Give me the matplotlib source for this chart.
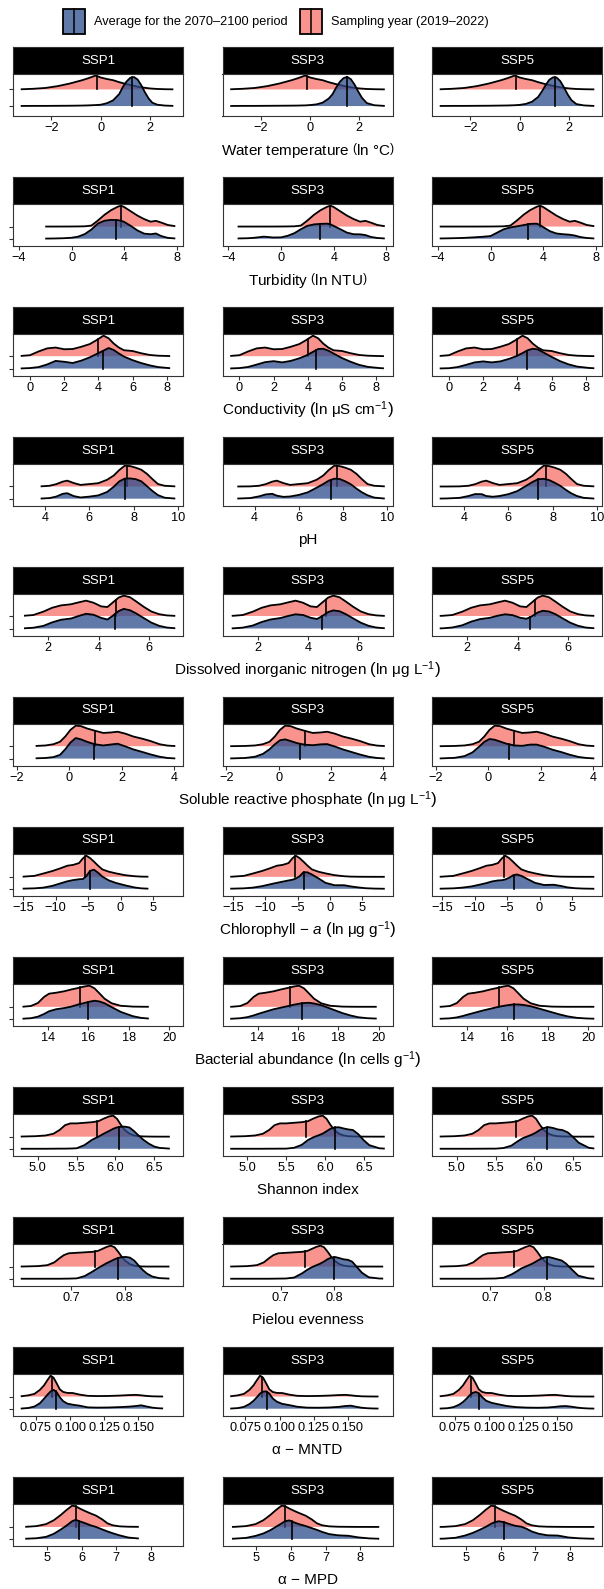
import numpy as np
import matplotlib.pyplot as plt
from matplotlib.patches import Rectangle

plt.rcParams['font.family'] = ['Liberation Sans', 'DejaVu Sans']
plt.rcParams['mathtext.fontset'] = 'custom'
plt.rcParams['mathtext.rm'] = 'Liberation Sans'
plt.rcParams['mathtext.it'] = 'Liberation Sans:italic'
plt.rcParams['mathtext.bf'] = 'Liberation Sans:bold'

scenarios = ['SSP1', 'SSP3', 'SSP5']
legend_labels = ['Average for the 2070\u20132100 period', 'Sampling year (2019\u20132022)']

# density heights (in ridge units) read on a shared grid per variable;
# "now" = sampling year, sspN = average for 2070-2100 under that scenario

# water temperature
temp_x = [-3.25, -2.75, -2.25, -1.75, -1.25, -0.75, -0.5, -0.2, 0.0, 0.25, 0.5, 0.75, 0.9,
          1.05, 1.2, 1.35, 1.5, 1.65, 1.8, 1.95, 2.1, 2.3, 2.6, 2.95, 3.03]
temp_now = [0.01, 0.04, 0.09, 0.2, 0.36, 0.56, 0.68, 0.84, 0.72, 0.63, 0.56, 0.44, 0.38,
            0.32, 0.27, 0.22, 0.17, 0.13, 0.1, 0.07, 0.05, 0.03, 0.015, 0.006, 0.005]
temp_ssp1 = [0.005, 0.01, 0.01, 0.015, 0.02, 0.03, 0.04, 0.06, 0.08, 0.17, 0.34, 0.72, 1.15,
             1.48, 1.7, 1.75, 1.6, 1.25, 0.82, 0.45, 0.2, 0.08, 0.03, 0.01, 0.01]
temp_ssp3 = [0.005, 0.01, 0.01, 0.015, 0.02, 0.025, 0.03, 0.04, 0.06, 0.1, 0.2, 0.45, 0.7,
             1.1, 1.45, 1.68, 1.76, 1.62, 1.3, 0.88, 0.5, 0.18, 0.05, 0.015, 0.01]
temp_ssp5 = [0.005, 0.01, 0.01, 0.015, 0.02, 0.03, 0.035, 0.05, 0.07, 0.13, 0.26, 0.55, 0.88,
             1.25, 1.58, 1.73, 1.72, 1.5, 1.12, 0.7, 0.36, 0.12, 0.04, 0.012, 0.01]
temp_med_now = -0.15
temp_med_future = [1.28, 1.48, 1.42]
temp_spans = [(-3.25, 2.95), (-3.25, 3.03), (-3.25, 3.03)]
temp_ticks = [-2, 0, 2]
temp_ticklabels = ['\u22122', '0', '2']

# turbidity
turb_x = [-3.86, -3.3, -2.5, -2.0, -1.3, -0.6, 0.0, 0.5, 1.0, 1.5, 2.0, 2.5, 3.0, 3.5,
          3.75, 4.0, 4.5, 5.0, 5.5, 6.0, 6.4, 6.8, 7.3, 7.87]
turb_now = [0.0, 0.0, 0.0, 0.0, 0.0, 0.002, 0.005, 0.01, 0.02, 0.08, 0.5, 0.97, 1.35, 1.63,
            1.72, 1.6, 1.25, 0.9, 0.62, 0.4, 0.47, 0.33, 0.13, 0.03]
turb_ssp1 = [0.0, 0.0, 0.0, 0.01, 0.02, 0.04, 0.08, 0.17, 0.38, 0.75, 1.25, 1.48, 1.55, 1.53,
             1.48, 1.38, 1.05, 0.68, 0.42, 0.37, 0.43, 0.22, 0.07, 0.02]
turb_ssp3 = [0.0, 0.02, 0.04, 0.08, 0.17, 0.1, 0.11, 0.24, 0.45, 0.78, 1.06, 1.18, 1.22, 1.24,
             1.18, 1.05, 0.78, 0.5, 0.37, 0.36, 0.3, 0.15, 0.06, 0.02]
turb_ssp5 = [0.02, 0.03, 0.05, 0.07, 0.11, 0.16, 0.22, 0.5, 0.78, 0.93, 1.02, 1.12, 1.22, 1.24,
             1.12, 0.95, 0.62, 0.43, 0.37, 0.33, 0.26, 0.14, 0.06, 0.02]
turb_med_now = 3.72
turb_med_future = [3.38, 2.97, 2.86]
turb_spans = [(-2.0, 7.87), (-3.3, 7.87), (-3.86, 7.87)]
turb_ticks = [-4, 0, 4, 8]
turb_ticklabels = ['\u22124', '0', '4', '8']

# conductivity
cond_x = [-0.54, 0.0, 0.5, 1.0, 1.5, 2.0, 2.5, 3.0, 3.5, 3.9, 4.3, 4.6, 4.9, 5.2, 5.5,
          6.0, 6.5, 7.0, 7.5, 8.2, 8.45, 8.5]
cond_now = [0.02, 0.08, 0.38, 0.63, 0.7, 0.56, 0.58, 0.76, 0.98, 1.3, 1.66, 1.45, 1.02, 0.7,
            0.48, 0.42, 0.24, 0.1, 0.04, 0.01, 0.005, 0.005]
cond_ssp1 = [0.01, 0.04, 0.12, 0.33, 0.62, 0.55, 0.45, 0.64, 0.91, 1.18, 1.45, 1.66, 1.5, 1.22,
             0.97, 0.68, 0.45, 0.26, 0.12, 0.03, 0.02, 0.02]
cond_ssp3 = [0.01, 0.04, 0.13, 0.32, 0.52, 0.6, 0.5, 0.62, 0.83, 1.05, 1.35, 1.58, 1.6, 1.45,
             1.22, 0.85, 0.55, 0.3, 0.14, 0.04, 0.02, 0.02]
cond_ssp5 = [0.01, 0.03, 0.12, 0.3, 0.5, 0.58, 0.5, 0.58, 0.78, 0.98, 1.25, 1.48, 1.6, 1.55,
             1.32, 0.95, 0.6, 0.34, 0.16, 0.05, 0.03, 0.02]
cond_med_now = 3.98
cond_med_future = [4.3, 4.5, 4.55]
cond_spans = [(-0.54, 8.2), (-0.54, 8.45), (-0.54, 8.5)]
cond_ticks = [0, 2, 4, 6, 8]
cond_ticklabels = ['0', '2', '4', '6', '8']

# pH
ph_x = [2.9, 3.22, 3.8, 4.2, 4.5, 4.8, 5.0, 5.3, 5.6, 6.0, 6.4, 6.8, 7.1, 7.35, 7.6, 7.85,
        8.1, 8.35, 8.6, 8.85, 9.1, 9.4, 9.88]
ph_now = [0.0, 0.0, 0.01, 0.06, 0.19, 0.4, 0.48, 0.28, 0.13, 0.2, 0.27, 0.55, 0.9, 1.35, 1.71,
          1.67, 1.54, 1.37, 1.04, 0.6, 0.2, 0.06, 0.01]
ph_ssp1 = [0.0, 0.0, 0.01, 0.05, 0.17, 0.4, 0.45, 0.21, 0.1, 0.17, 0.27, 0.55, 0.98, 1.42, 1.65,
           1.66, 1.6, 1.42, 1.03, 0.63, 0.29, 0.08, 0.01]
ph_ssp3 = [0.0, 0.01, 0.05, 0.19, 0.35, 0.4, 0.25, 0.15, 0.18, 0.31, 0.52, 0.9, 1.2, 1.48, 1.64,
           1.61, 1.42, 1.18, 0.83, 0.52, 0.28, 0.09, 0.01]
ph_ssp5 = [0.01, 0.02, 0.07, 0.22, 0.38, 0.37, 0.22, 0.16, 0.22, 0.37, 0.62, 1.05, 1.38, 1.6,
           1.63, 1.52, 1.3, 1.05, 0.72, 0.43, 0.22, 0.07, 0.01]
ph_med_now = 7.7
ph_med_future = [7.6, 7.43, 7.36]
ph_spans = [(3.8, 9.88), (3.22, 9.88), (2.9, 9.88)]
ph_ticks = [4, 6, 8, 10]
ph_ticklabels = ['4', '6', '8', '10']

# dissolved inorganic nitrogen
din_x = [0.9, 0.96, 1.03, 1.4, 1.8, 2.15, 2.5, 2.9, 3.2, 3.5, 3.8, 4.1, 4.35, 4.55, 4.8, 5.0,
         5.25, 5.5, 5.8, 6.1, 6.4, 6.7, 7.05]
din_now = [0.01, 0.015, 0.02, 0.08, 0.35, 0.66, 0.85, 0.94, 1.09, 1.23, 1.06, 0.77, 0.72, 1.06,
           1.48, 1.63, 1.5, 1.16, 0.73, 0.36, 0.15, 0.05, 0.01]
din_ssp1 = [0.01, 0.012, 0.015, 0.06, 0.21, 0.49, 0.7, 0.8, 1.0, 1.18, 1.1, 0.85, 0.72, 1.0,
            1.4, 1.57, 1.46, 1.2, 0.83, 0.47, 0.22, 0.08, 0.02]
din_ssp3 = [0.01, 0.012, 0.015, 0.07, 0.24, 0.52, 0.72, 0.84, 1.0, 1.14, 1.08, 0.86, 0.76, 0.98,
            1.32, 1.45, 1.38, 1.15, 0.8, 0.46, 0.22, 0.08, 0.02]
din_ssp5 = [0.01, 0.013, 0.017, 0.08, 0.26, 0.55, 0.75, 0.86, 1.02, 1.14, 1.07, 0.86, 0.78, 0.96,
            1.28, 1.42, 1.36, 1.15, 0.8, 0.46, 0.22, 0.08, 0.02]
din_med_now = 4.7
din_med_future = [4.67, 4.54, 4.5]
din_spans = [(1.03, 7.05), (0.96, 7.05), (0.9, 7.05)]
din_ticks = [2, 4, 6]
din_ticklabels = ['2', '4', '6']

# soluble reactive phosphate
srp_x = [-1.85, -1.28, -0.9, -0.6, -0.35, -0.15, 0.05, 0.25, 0.45, 0.7, 1.0, 1.3, 1.6, 1.85,
         2.15, 2.45, 2.8, 3.1, 3.45, 3.75, 4.05]
srp_now = [0.0, 0.02, 0.06, 0.16, 0.36, 0.78, 1.32, 1.66, 1.62, 1.42, 1.24, 1.07, 1.11, 1.17,
           1.01, 0.78, 0.6, 0.42, 0.16, 0.05, 0.01]
srp_ssp1 = [0.0, 0.02, 0.05, 0.12, 0.3, 0.75, 1.3, 1.66, 1.55, 1.34, 1.15, 1.06, 1.14, 1.2,
            0.98, 0.74, 0.53, 0.34, 0.15, 0.05, 0.01]
srp_ssp3 = [0.01, 0.05, 0.15, 0.38, 0.75, 1.15, 1.48, 1.55, 1.42, 1.25, 1.12, 1.08, 1.15, 1.17,
            0.97, 0.74, 0.52, 0.33, 0.14, 0.05, 0.01]
srp_ssp5 = [0.01, 0.06, 0.2, 0.5, 0.95, 1.35, 1.58, 1.52, 1.38, 1.2, 1.06, 1.03, 1.13, 1.13,
            0.95, 0.72, 0.52, 0.32, 0.13, 0.05, 0.01]
srp_med_now = 1.0
srp_med_future = [0.95, 0.8, 0.8]
srp_spans = [(-1.28, 4.05), (-1.85, 4.05), (-1.85, 4.05)]
srp_ticks = [-2, 0, 2, 4]
srp_ticklabels = ['\u22122', '0', '2', '4']

# chlorophyll-a
chl_x = [-15.4, -15.1, -13.3, -11.9, -10.5, -9.3, -8.2, -7.3, -6.4, -5.8, -5.3, -4.7, -4.1,
         -3.5, -2.8, -1.8, -0.7, 0.7, 2.2, 3.2, 4.3, 5.5, 6.8, 8.45]
chl_now = [0.01, 0.015, 0.08, 0.28, 0.49, 0.71, 0.93, 1.0, 1.15, 1.55, 1.77, 1.57, 1.27, 0.95,
           0.62, 0.43, 0.29, 0.14, 0.05, 0.02, 0.01, 0.005, 0.003, 0.002]
chl_ssp1 = [0.01, 0.015, 0.04, 0.1, 0.25, 0.45, 0.63, 0.73, 0.8, 0.82, 1.05, 1.5, 1.6, 1.36,
            1.02, 0.7, 0.49, 0.29, 0.11, 0.04, 0.01, 0.005, 0.003, 0.002]
chl_ssp3 = [0.01, 0.015, 0.04, 0.1, 0.22, 0.37, 0.5, 0.6, 0.7, 0.76, 0.85, 1.05, 1.38, 1.38,
            1.2, 0.88, 0.5, 0.3, 0.3, 0.2, 0.12, 0.05, 0.02, 0.005]
chl_ssp5 = [0.01, 0.015, 0.04, 0.1, 0.2, 0.34, 0.48, 0.62, 0.7, 0.72, 0.78, 0.92, 1.12, 1.2,
            1.08, 0.8, 0.5, 0.32, 0.34, 0.25, 0.12, 0.05, 0.02, 0.005]
chl_med_now = -5.45
chl_med_future = [-4.7, -4.05, -3.9]
chl_spans = [(-15.1, 4.3), (-15.4, 8.45), (-15.4, 8.45)]
chl_ticks = [-15, -10, -5, 0, 5]
chl_ticklabels = ['\u221215', '\u221210', '\u22125', '0', '5']

# bacterial abundance
bact_x = [12.65, 12.74, 13.15, 13.5, 13.8, 14.05, 14.4, 14.8, 15.15, 15.5, 15.8, 16.05, 16.3,
          16.55, 16.8, 17.15, 17.6, 18.2, 18.6, 18.99, 19.45, 19.9, 20.3]
bact_now = [0.005, 0.01, 0.07, 0.32, 0.82, 1.1, 1.18, 1.3, 1.45, 1.58, 1.7, 1.77, 1.55, 1.12,
            0.68, 0.3, 0.09, 0.02, 0.01, 0.005, 0.005, 0.005, 0.005]
bact_ssp1 = [0.005, 0.01, 0.05, 0.18, 0.4, 0.63, 0.8, 0.9, 1.02, 1.2, 1.32, 1.43, 1.51, 1.45,
             1.3, 0.98, 0.58, 0.22, 0.08, 0.02, 0.01, 0.005, 0.003]
bact_ssp3 = [0.005, 0.01, 0.05, 0.14, 0.28, 0.42, 0.6, 0.8, 0.93, 1.06, 1.18, 1.26, 1.32, 1.34,
             1.28, 1.14, 0.86, 0.48, 0.28, 0.13, 0.05, 0.02, 0.01]
bact_ssp5 = [0.005, 0.01, 0.04, 0.12, 0.24, 0.36, 0.52, 0.7, 0.84, 0.98, 1.08, 1.15, 1.2, 1.2,
             1.16, 1.05, 0.84, 0.55, 0.36, 0.2, 0.08, 0.03, 0.01]
bact_med_now = 15.6
bact_med_future = [15.97, 16.22, 16.33]
bact_spans = [(12.74, 18.99), (12.65, 19.9), (12.65, 20.3)]
bact_ticks = [14, 16, 18, 20]
bact_ticklabels = ['14', '16', '18', '20']

# Shannon index
shan_x = [4.78, 4.97, 5.1, 5.2, 5.28, 5.35, 5.42, 5.5, 5.6, 5.7, 5.78, 5.85, 5.92, 5.97, 6.02,
          6.07, 6.12, 6.18, 6.24, 6.3, 6.36, 6.43, 6.5, 6.57, 6.7, 6.77]
shan_now = [0.01, 0.04, 0.1, 0.24, 0.55, 0.95, 1.1, 1.1, 1.15, 1.2, 1.28, 1.5, 1.68, 1.74, 1.48,
            0.98, 0.55, 0.25, 0.1, 0.04, 0.02, 0.01, 0.005, 0.003, 0.002, 0.002]
shan_ssp1 = [0.0, 0.0, 0.0, 0.005, 0.01, 0.01, 0.02, 0.04, 0.3, 0.75, 1.0, 1.25, 1.48, 1.65,
             1.77, 1.82, 1.83, 1.76, 1.45, 1.08, 0.74, 0.42, 0.18, 0.07, 0.01, 0.005]
shan_ssp3 = [0.0, 0.0, 0.0, 0.0, 0.005, 0.005, 0.01, 0.01, 0.08, 0.32, 0.72, 0.95, 1.12, 1.25,
             1.45, 1.65, 1.76, 1.78, 1.68, 1.6, 1.55, 1.2, 0.7, 0.3, 0.04, 0.01]
shan_ssp5 = [0.0, 0.0, 0.0, 0.0, 0.005, 0.005, 0.01, 0.01, 0.06, 0.25, 0.6, 0.88, 1.05, 1.18,
             1.35, 1.55, 1.72, 1.79, 1.72, 1.6, 1.55, 1.35, 0.95, 0.5, 0.08, 0.02]
shan_med_now = 5.76
shan_med_future = [6.04, 6.13, 6.16]
shan_spans = [(4.78, 6.7), (4.78, 6.77), (4.78, 6.77)]
shan_ticks = [5.0, 5.5, 6.0, 6.5]
shan_ticklabels = ['5.0', '5.5', '6.0', '6.5']

# Pielou evenness
piel_x = [0.605, 0.637, 0.655, 0.668, 0.678, 0.686, 0.695, 0.71, 0.725, 0.74, 0.75, 0.758,
          0.766, 0.774, 0.781, 0.788, 0.795, 0.802, 0.81, 0.818, 0.826, 0.834, 0.842, 0.852,
          0.865, 0.884, 0.892, 0.895]
piel_now = [0.005, 0.04, 0.12, 0.35, 0.7, 0.95, 1.1, 1.14, 1.18, 1.22, 1.3, 1.46, 1.62, 1.73,
            1.6, 1.22, 0.78, 0.45, 0.2, 0.08, 0.03, 0.01, 0.005, 0.005, 0.005, 0.005, 0.005,
            0.005]
piel_ssp1 = [0.0, 0.0, 0.0, 0.0, 0.0, 0.005, 0.01, 0.03, 0.22, 0.6, 0.88, 1.08, 1.28, 1.45,
             1.6, 1.72, 1.78, 1.8, 1.74, 1.5, 1.1, 0.72, 0.42, 0.18, 0.05, 0.01, 0.005, 0.005]
piel_ssp3 = [0.0, 0.0, 0.0, 0.0, 0.0, 0.005, 0.01, 0.02, 0.1, 0.45, 0.75, 0.95, 1.1, 1.25,
             1.42, 1.62, 1.75, 1.79, 1.7, 1.6, 1.56, 1.4, 1.0, 0.5, 0.12, 0.02, 0.01, 0.005]
piel_ssp5 = [0.0, 0.0, 0.0, 0.0, 0.0, 0.005, 0.01, 0.02, 0.08, 0.36, 0.62, 0.85, 1.0, 1.15,
             1.3, 1.48, 1.65, 1.76, 1.79, 1.7, 1.6, 1.5, 1.25, 0.8, 0.25, 0.04, 0.01, 0.005]
piel_med_now = 0.745
piel_med_future = [0.787, 0.8, 0.806]
piel_spans = [(0.605, 0.884), (0.605, 0.892), (0.605, 0.895)]
piel_ticks = [0.7, 0.8]
piel_ticklabels = ['0.7', '0.8']

# alpha-MNTD
mntd_x = [0.064, 0.0695, 0.074, 0.078, 0.081, 0.0835, 0.0858, 0.088, 0.0903, 0.0925, 0.095,
          0.098, 0.102, 0.107, 0.113, 0.12, 0.128, 0.136, 0.143, 0.148, 0.152, 0.156, 0.16,
          0.164, 0.168, 0.1723, 0.1769]
mntd_now = [0.02, 0.1, 0.22, 0.55, 0.92, 1.35, 1.72, 1.55, 1.08, 0.6, 0.38, 0.3, 0.29, 0.16,
            0.06, 0.04, 0.05, 0.08, 0.12, 0.14, 0.1, 0.05, 0.02, 0.01, 0.005, 0.003, 0.002]
mntd_ssp1 = [0.01, 0.06, 0.18, 0.45, 0.82, 1.15, 1.42, 1.55, 1.35, 0.95, 0.62, 0.42, 0.33, 0.25,
             0.11, 0.09, 0.1, 0.13, 0.17, 0.22, 0.28, 0.18, 0.09, 0.04, 0.02, 0.01, 0.005]
mntd_ssp3 = [0.01, 0.05, 0.15, 0.38, 0.65, 0.95, 1.25, 1.4, 1.43, 1.25, 0.85, 0.58, 0.4, 0.3,
             0.16, 0.09, 0.08, 0.1, 0.15, 0.22, 0.25, 0.16, 0.08, 0.04, 0.02, 0.01, 0.005]
mntd_ssp5 = [0.01, 0.04, 0.13, 0.32, 0.55, 0.82, 1.1, 1.3, 1.38, 1.28, 0.95, 0.65, 0.48, 0.36,
             0.22, 0.13, 0.09, 0.08, 0.1, 0.15, 0.2, 0.22, 0.17, 0.1, 0.05, 0.02, 0.01]
mntd_med_now = 0.087
mntd_med_future = [0.0895, 0.0912, 0.093]
mntd_spans = [(0.064, 0.168), (0.064, 0.1723), (0.064, 0.1769)]
mntd_ticks = [0.075, 0.100, 0.125, 0.150]
mntd_ticklabels = ['0.075', '0.100', '0.125', '0.150']

# alpha-MPD
mpd_x = [4.25, 4.3, 4.38, 4.7, 4.98, 5.2, 5.4, 5.57, 5.73, 5.83, 5.95, 6.1, 6.25, 6.42, 6.6,
         6.75, 6.9, 7.1, 7.35, 7.65, 7.95, 8.25, 8.54, 8.7]
mpd_now = [0.005, 0.006, 0.01, 0.07, 0.24, 0.56, 1.0, 1.43, 1.79, 1.74, 1.55, 1.34, 1.15, 0.95,
           0.63, 0.3, 0.14, 0.05, 0.02, 0.01, 0.005, 0.003, 0.002, 0.002]
mpd_ssp1 = [0.005, 0.006, 0.01, 0.05, 0.17, 0.42, 0.78, 1.12, 1.48, 1.6, 1.47, 1.32, 1.15, 1.0,
            0.79, 0.62, 0.47, 0.29, 0.11, 0.03, 0.01, 0.005, 0.003, 0.002]
mpd_ssp3 = [0.005, 0.01, 0.02, 0.08, 0.25, 0.45, 0.72, 1.02, 1.3, 1.48, 1.55, 1.37, 1.22, 1.08,
            0.9, 0.75, 0.58, 0.4, 0.3, 0.26, 0.12, 0.04, 0.01, 0.005]
mpd_ssp5 = [0.01, 0.015, 0.02, 0.09, 0.28, 0.5, 0.76, 1.0, 1.27, 1.4, 1.48, 1.4, 1.25, 1.1,
            1.02, 0.85, 0.62, 0.43, 0.3, 0.28, 0.12, 0.05, 0.02, 0.01]
mpd_med_now = 5.83
mpd_med_future = [5.94, 6.02, 6.09]
mpd_spans = [(4.38, 7.65), (4.3, 8.54), (4.25, 8.7)]
mpd_ticks = [5, 6, 7, 8]
mpd_ticklabels = ['5', '6', '7', '8']

titles = [
    r'Water temperature $\left(\mathrm{ln\ °C}\right)$',
    r'Turbidity $\left(\mathrm{ln\ NTU}\right)$',
    r'Conductivity $\left(\mathrm{ln\ μS\ cm}^{-1}\right)$',
    'pH',
    r'Dissolved inorganic nitrogen $\left(\mathrm{ln\ μg\ L}^{-1}\right)$',
    r'Soluble reactive phosphate $\left(\mathrm{ln\ μg\ L}^{-1}\right)$',
    r'Chlorophyll $-$ $a$ $\left(\mathrm{ln\ μg\ g}^{-1}\right)$',
    r'Bacterial abundance $\left(\mathrm{ln\ cells\ g}^{-1}\right)$',
    'Shannon index',
    'Pielou evenness',
    '\u03b1 \u2212 MNTD',
    '\u03b1 \u2212 MPD',
]

rows = [
    (temp_x, temp_now, [temp_ssp1, temp_ssp3, temp_ssp5], temp_med_now, temp_med_future,
     temp_spans, temp_ticks, temp_ticklabels),
    (turb_x, turb_now, [turb_ssp1, turb_ssp3, turb_ssp5], turb_med_now, turb_med_future,
     turb_spans, turb_ticks, turb_ticklabels),
    (cond_x, cond_now, [cond_ssp1, cond_ssp3, cond_ssp5], cond_med_now, cond_med_future,
     cond_spans, cond_ticks, cond_ticklabels),
    (ph_x, ph_now, [ph_ssp1, ph_ssp3, ph_ssp5], ph_med_now, ph_med_future,
     ph_spans, ph_ticks, ph_ticklabels),
    (din_x, din_now, [din_ssp1, din_ssp3, din_ssp5], din_med_now, din_med_future,
     din_spans, din_ticks, din_ticklabels),
    (srp_x, srp_now, [srp_ssp1, srp_ssp3, srp_ssp5], srp_med_now, srp_med_future,
     srp_spans, srp_ticks, srp_ticklabels),
    (chl_x, chl_now, [chl_ssp1, chl_ssp3, chl_ssp5], chl_med_now, chl_med_future,
     chl_spans, chl_ticks, chl_ticklabels),
    (bact_x, bact_now, [bact_ssp1, bact_ssp3, bact_ssp5], bact_med_now, bact_med_future,
     bact_spans, bact_ticks, bact_ticklabels),
    (shan_x, shan_now, [shan_ssp1, shan_ssp3, shan_ssp5], shan_med_now, shan_med_future,
     shan_spans, shan_ticks, shan_ticklabels),
    (piel_x, piel_now, [piel_ssp1, piel_ssp3, piel_ssp5], piel_med_now, piel_med_future,
     piel_spans, piel_ticks, piel_ticklabels),
    (mntd_x, mntd_now, [mntd_ssp1, mntd_ssp3, mntd_ssp5], mntd_med_now, mntd_med_future,
     mntd_spans, mntd_ticks, mntd_ticklabels),
    (mpd_x, mpd_now, [mpd_ssp1, mpd_ssp3, mpd_ssp5], mpd_med_now, mpd_med_future,
     mpd_spans, mpd_ticks, mpd_ticklabels),
]

RED = '#F9938E'
BLUE = '#2B4C8C'
BLUE_ALPHA = 0.75
FRAME = '#333333'

W, H = 604, 1589
col_left = [13, 222.5, 432]
panel_w = 170
strip_top0 = 47
row_step = 130
strip_h = 27
panel_h = 42


def box(left, top, width, height):
    return [left / W, 1 - (top + height) / H, width / W, height / H]


def ridge(ax, x, h, base, lo, hi, median, color, alpha):
    x = np.asarray(x, float)
    h = np.asarray(h, float)
    keep = (x >= lo - 1e-9) & (x <= hi + 1e-9)
    xs, hs = x[keep], h[keep]
    ax.fill_between(xs, base, base + hs, facecolor=color, alpha=alpha, lw=0, zorder=2)
    ax.plot(xs, base + hs, color='black', lw=1.3, solid_joinstyle='round',
            solid_capstyle='butt', zorder=2)
    top = np.interp(median, xs, hs)
    ax.plot([median, median], [base, base + top], color='black', lw=1.2, zorder=2)


fig = plt.figure(figsize=(W / 100, H / 100), dpi=100)

# legend
lax = fig.add_axes([0, 0, 1, 1], facecolor='none')
lax.set_xlim(0, W)
lax.set_ylim(H, 0)
lax.axis('off')
key_specs = [(63, BLUE, BLUE_ALPHA, legend_labels[0]), (300, RED, 1.0, legend_labels[1])]
for kx, col, a, lab in key_specs:
    lax.add_patch(Rectangle((kx, 9), 22, 25, facecolor=col, alpha=a, lw=0))
    lax.add_patch(Rectangle((kx, 9), 22, 25, facecolor='none', edgecolor='black', lw=1.3))
    lax.plot([kx + 11, kx + 11], [9, 34], color='black', lw=1.1)
    lax.text(kx + 31, 22, lab, fontsize=9.2, va='center', ha='left')

for r, (gx, now, futures, med_now, med_fut, spans, ticks, ticklabels) in enumerate(rows):
    lo = min(s[0] for s in spans)
    hi = max(s[1] for s in spans)
    pad = 0.05 * (hi - lo)
    top = 2 + max(now)
    for fut, (a, b) in zip(futures, spans):
        gxa = np.asarray(gx)
        sel = (gxa >= a) & (gxa <= b)
        top = max(top, 1 + np.asarray(fut)[sel].max())
    ymax = top + 0.05 * (top - 1)

    s_top = strip_top0 + r * row_step
    for c in range(3):
        sax = fig.add_axes(box(col_left[c], s_top, panel_w, strip_h), facecolor='black')
        sax.set_xticks([])
        sax.set_yticks([])
        for sp in sax.spines.values():
            sp.set_color(FRAME)
            sp.set_linewidth(0.8)
        sax.text(0.5, 0.5, scenarios[c], color='white', fontsize=9.5, ha='center', va='center',
                 transform=sax.transAxes)

        ax = fig.add_axes(box(col_left[c], s_top + strip_h, panel_w, panel_h))
        lo_c, hi_c = spans[c]
        ridge(ax, gx, now, 2, lo_c, hi_c, med_now, RED, 1.0)
        ridge(ax, gx, futures[c], 1, lo_c, hi_c, med_fut[c], BLUE, BLUE_ALPHA)
        ax.set_xlim(lo - pad, hi + pad)
        ax.set_ylim(0.4, ymax)
        ax.set_xticks(ticks)
        ax.set_xticklabels(ticklabels)
        if c == 0:
            ax.set_yticks([1, 2])
            ax.set_yticklabels([])
        else:
            ax.set_yticks([])
        ax.tick_params(length=3, width=0.8, color=FRAME, labelsize=9.2, pad=1.5,
                       labelcolor='black')
        for sp in ax.spines.values():
            sp.set_color(FRAME)
            sp.set_linewidth(0.8)

    title_y = s_top + strip_h + panel_h + 34
    fig.text((col_left[0] + col_left[2] + panel_w) / 2 / W, 1 - title_y / H, titles[r],
             fontsize=11, ha='center', va='center')

fig.savefig('out.png', dpi=100)
